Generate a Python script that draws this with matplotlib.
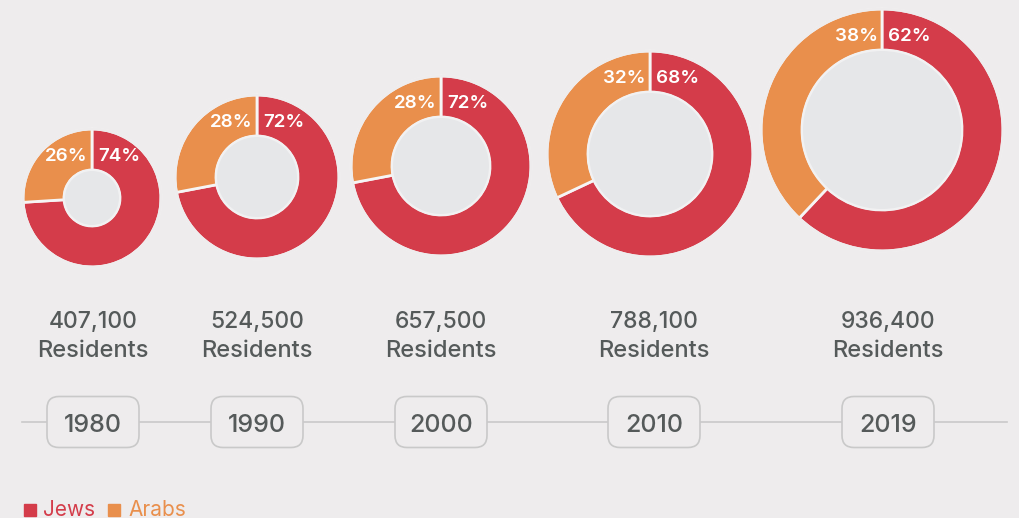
import matplotlib
matplotlib.use("Agg")
import matplotlib.pyplot as plt
from matplotlib.patches import Circle, FancyBboxPatch, Rectangle

# ---- data ----
years = ["1980", "1990", "2000", "2010", "2019"]
residents = ["407,100", "524,500", "657,500", "788,100", "936,400"]
jews_pct = [74, 72, 72, 68, 62]
arabs_pct = [26, 28, 28, 32, 38]
series_names = ["Jews", "Arabs"]

# ---- layout / style ----
W, H = 1019, 518
BG = "#eeeced"
RED = "#d43c4a"
ORANGE = "#e98f4c"
HOLE = "#e6e7e9"
TXT = "#555a5a"
LINE = "#c9c9c9"
donut_cx = [92, 257, 441, 650, 882]
donut_cy = [198, 177, 166, 154, 130]
donut_r = [68, 81, 89, 102, 120]
ring_w = 40
col_x = [93, 257, 441, 654, 888]

plt.rcParams['font.family'] = ['Inter', 'DejaVu Sans']
fig = plt.figure(figsize=(W / 100, H / 100), dpi=100, facecolor=BG)
ax = fig.add_axes([0, 0, 1, 1])
ax.set_facecolor(BG)

for i in range(len(years)):
    cx, cy, r = donut_cx[i], H - donut_cy[i], donut_r[i]
    ax.pie([jews_pct[i], arabs_pct[i]], colors=[RED, ORANGE], center=(cx, cy),
           radius=r + 1, startangle=90, counterclock=False, frame=True,
           wedgeprops=dict(width=ring_w + 1, edgecolor="#f6f5f5", linewidth=2))
    # hide the outer white edge
    ax.add_patch(Circle((cx, cy), r + 1, fill=False, edgecolor=BG, linewidth=2, zorder=3))
    ax.add_patch(Circle((cx, cy), r - ring_w, facecolor=HOLE, edgecolor="#f1f1f2",
                        linewidth=1.5, zorder=3))
    ty = cy + r - 31
    ax.text(cx + 6, ty, f"{jews_pct[i]}%", color="white", fontsize=13.5, weight="semibold",
            ha="left", va="baseline", zorder=5)
    ax.text(cx - 4, ty, f"{arabs_pct[i]}%", color="white", fontsize=13.5, weight="semibold",
            ha="right", va="baseline", zorder=5)

# timeline
ax.plot([22, 1007], [H - 422, H - 422], color=LINE, lw=1.2, zorder=1)
for i in range(len(years)):
    x = col_x[i]
    ax.text(x, H - 328.5, residents[i], color=TXT, fontsize=16.5, weight="medium",
            ha="center", va="baseline")
    ax.text(x, H - 357, "Residents", color=TXT, fontsize=17, weight="medium",
            ha="center", va="baseline")
    bw, bh = 92, 51
    ax.add_patch(FancyBboxPatch((x - bw / 2 + 12, H - 422 - bh / 2 + 12), bw - 24, bh - 24,
                                boxstyle="round,pad=12", facecolor=BG, edgecolor=LINE,
                                linewidth=1.2, zorder=2))
    ax.text(x, H - 432.5, years[i], color=TXT, fontsize=18, weight="medium",
            ha="center", va="baseline", zorder=3)

# legend
ax.add_patch(Rectangle((24, H - 516), 12, 12, color=RED))
ax.text(43, H - 516, series_names[0], color=RED, fontsize=15, ha="left", va="baseline")
ax.add_patch(Rectangle((108, H - 516), 12, 12, color=ORANGE))
ax.text(128, H - 516, series_names[1], color=ORANGE, fontsize=15, ha="left", va="baseline")

ax.set_xlim(0, W)
ax.set_ylim(0, H)
ax.set_aspect("auto")
ax.axis("off")
fig.savefig("out.png", dpi=100, facecolor=BG)
